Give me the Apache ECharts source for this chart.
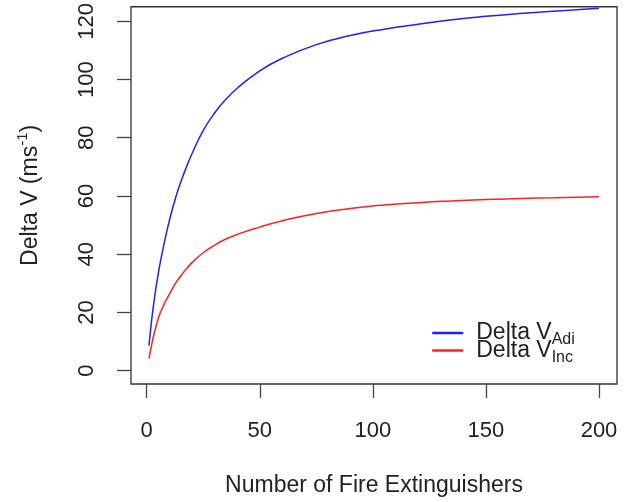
<!DOCTYPE html>
<html>
<head>
<meta charset="utf-8">
<script src="https://cdn.jsdelivr.net/npm/echarts@6/dist/echarts.min.js"></script>
<style>
  html, body { margin: 0; padding: 0; background: #fff; }
  #chart { width: 634px; height: 502px; }
</style>
</head>
<body>
<div id="chart"></div>
<script>
// values
const extinguishers = [1, 2, 3, 4, 5, 6, 8, 10, 13, 16, 20, 25, 30, 35, 40, 50, 60, 75, 90, 105, 120, 135, 150, 165, 180, 200]
const deltaVAdi = [8.6, 16.2, 22.5, 28, 32.8, 37.3, 44.8, 51.5, 60, 66.8, 74.5, 82.5, 88.5, 93.2, 97, 103, 107.3, 112, 115.1, 117.3, 119, 120.5, 121.7, 122.7, 123.5, 124.5]
const deltaVInc = [4.1, 8.2, 11.8, 14.9, 17.6, 19.9, 23.3, 26.3, 30.3, 33.5, 37.1, 40.5, 43.1, 45.2, 46.8, 49.3, 51.5, 54, 55.7, 56.9, 57.7, 58.3, 58.8, 59.1, 59.4, 59.7]
const xTicks = [0, 50, 100, 150, 200]
const yTicks = [0, 20, 40, 60, 80, 100, 120]

const pairs = (xs, ys) => xs.map((x, i) => [x, ys[i]])
const font = 'Liberation Sans, Arial, sans-serif'
const ink = '#222'

const chart = echarts.init(document.getElementById('chart'), null, { renderer: 'canvas' })
chart.setOption({
  animation: false,
  backgroundColor: '#fff',
  grid: {
    left: 131,
    right: 17,
    top: 5,
    bottom: 117,
    show: true,
    borderColor: '#333',
    borderWidth: 1.3,
    containLabel: false
  },
  legend: {
    orient: 'vertical',
    left: 426,
    top: 316.5,
    itemWidth: 31,
    itemHeight: 14,
    itemGap: -9,
    data: ['adi', 'inc'],
    itemStyle: { opacity: 0 },
    lineStyle: { width: 2.5 },
    formatter: name => name === 'adi' ? '{m|Delta V}{s|Adi}' : '{m|Delta V}{s|Inc}',
    textStyle: {
      color: ink,
      fontFamily: font,
      padding: [0, 0, 0, 8],
      rich: {
        m: { fontSize: 23, fontFamily: font, color: ink, lineHeight: 18 },
        s: { fontSize: 16, fontFamily: font, color: ink, lineHeight: 18, verticalAlign: 'bottom', padding: [0, 0, -6, 0] }
      }
    }
  },
  xAxis: {
    type: 'value',
    min: -6.96,
    max: 207.96,
    axisLine: { show: false, onZero: false },
    splitLine: { show: false },
    axisTick: {
      show: true,
      inside: false,
      length: 14,
      customValues: xTicks,
      lineStyle: { color: '#444', width: 1.3 }
    },
    axisLabel: {
      customValues: xTicks,
      margin: 36,
      fontSize: 22,
      fontFamily: font,
      color: ink
    },
    name: 'Number of Fire Extinguishers',
    nameLocation: 'middle',
    nameGap: 90,
    nameTextStyle: { fontSize: 23, fontFamily: font, color: ink }
  },
  yAxis: {
    type: 'value',
    min: -4.6,
    max: 125,
    axisLine: { show: false, onZero: false },
    splitLine: { show: false },
    axisTick: {
      show: true,
      inside: false,
      length: 14,
      customValues: yTicks,
      lineStyle: { color: '#444', width: 1.3 }
    },
    axisLabel: {
      customValues: yTicks,
      rotate: 90,
      margin: 33,
      fontSize: 22,
      fontFamily: font,
      color: ink
    },
    name: '{m|Delta V (ms}{s|-1}{m|)}',
    nameLocation: 'middle',
    nameRotate: 90,
    nameGap: 88,
    nameTextStyle: {
      fontSize: 23,
      fontFamily: font,
      color: ink,
      rich: {
        m: { fontSize: 23, fontFamily: font, color: ink, lineHeight: 24 },
        s: { fontSize: 15, fontFamily: font, color: ink, lineHeight: 24, verticalAlign: 'top', padding: [-4, 0, 0, 0] }
      }
    }
  },
  series: [
    {
      name: 'adi',
      type: 'line',
      smooth: 0.5,
      symbol: 'none',
      lineStyle: { color: '#1f1fff', width: 1.5 },
      itemStyle: { color: '#1f1fff' },
      data: pairs(extinguishers, deltaVAdi)
    },
    {
      name: 'inc',
      type: 'line',
      smooth: 0.5,
      symbol: 'none',
      lineStyle: { color: '#ff1f1f', width: 1.5 },
      itemStyle: { color: '#ff1f1f' },
      data: pairs(extinguishers, deltaVInc)
    }
  ]
})
</script>
</body>
</html>
